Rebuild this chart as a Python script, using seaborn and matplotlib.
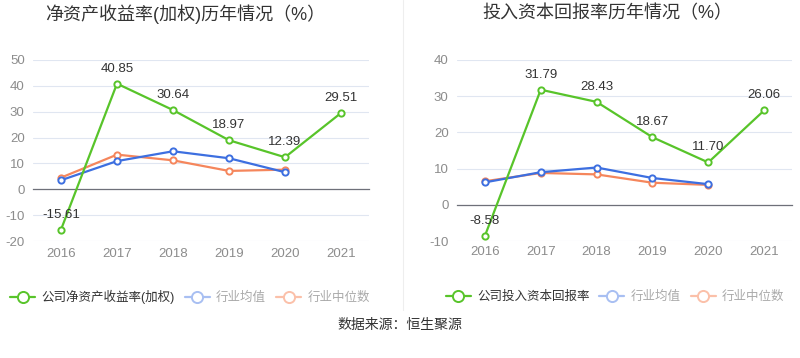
import numpy as np
import matplotlib
matplotlib.use("Agg")
import matplotlib.pyplot as plt
import seaborn as sns
from matplotlib.lines import Line2D

# data
years = ["2016", "2017", "2018", "2019", "2020", "2021"]
roe_company = [-15.61, 40.85, 30.64, 18.97, 12.39, 29.51]
roe_ind_mean = [3.5, 10.9, 14.7, 12.0, 6.6, np.nan]
roe_ind_median = [4.5, 13.4, 11.2, 7.1, 7.6, np.nan]
roic_company = [-8.58, 31.79, 28.43, 18.67, 11.70, 26.06]
roic_ind_mean = [6.2, 9.0, 10.3, 7.4, 5.7, np.nan]
roic_ind_median = [6.5, 8.8, 8.4, 6.1, 5.5, np.nan]

GREEN = "#58c42a"
BLUE = "#3d6fe0"
ORANGE = "#f5865c"
BLUE_FADED = "#a8bff2"
ORANGE_FADED = "#fbc0a9"

sns.set_style("white")
plt.rcParams['font.family'] = ['Liberation Sans', 'Noto Sans CJK SC', 'DejaVu Sans']

fig = plt.figure(figsize=(8, 3.58), dpi=100)
ax1 = fig.add_axes([33 / 800, 1 - 241 / 358, 336 / 800, 181 / 358])
ax2 = fig.add_axes([457 / 800, 1 - 241 / 358, 335 / 800, 181 / 358])


def draw(ax, company, mean, median, ylim, yticks, label_pad):
    x = np.arange(len(years))
    for vals, col, z in [(median, ORANGE, 2), (mean, BLUE, 3), (company, GREEN, 4)]:
        sns.lineplot(x=x, y=vals, ax=ax, color=col, linewidth=1.6, marker="o",
                     markersize=4.5, markerfacecolor="white", markeredgecolor=col,
                     markeredgewidth=1.4, zorder=z)
    for i, v in enumerate(company):
        ax.annotate(f"{v:.2f}", (i, v), xytext=(0, 6.5), textcoords="offset points",
                    ha="center", va="bottom", fontsize=9.5, color="#333333", zorder=5)
    ax.set_xlim(-0.5, len(years) - 0.5)
    ax.set_ylim(*ylim)
    ax.set_yticks(yticks)
    ax.set_yticklabels([str(t) for t in yticks])
    ax.yaxis.grid(True, color="#e0e6f1", linewidth=0.8)
    ax.xaxis.grid(False)
    for s in ["top", "right", "left"]:
        ax.spines[s].set_visible(False)
    ax.spines["bottom"].set_position(("data", 0))
    ax.spines["bottom"].set_color("#6e7079")
    ax.spines["bottom"].set_linewidth(0.9)
    ax.set_xticks(x)
    ax.tick_params(axis="x", length=4, color="#6e7079", width=0.8,
                   labelsize=9.5, labelcolor="#8c8c8c", pad=label_pad)
    ax.set_xticklabels(years)
    ax.tick_params(axis="y", length=0, labelsize=9.5, labelcolor="#8c8c8c", pad=6)


draw(ax1, roe_company, roe_ind_mean, roe_ind_median, (-20, 50),
     [-20, -10, 0, 10, 20, 30, 40, 50], 38)
draw(ax2, roic_company, roic_ind_mean, roic_ind_median, (-10, 40),
     [-10, 0, 10, 20, 30, 40], 26)

fig.text(185 / 800, 1 - 14 / 358, "净资产收益率(加权)历年情况（%）", ha="center", va="center",
         fontsize=13, color="#333333")
fig.text(607 / 800, 1 - 14 / 358, "投入资本回报率历年情况（%）", ha="center", va="center",
         fontsize=13, color="#333333")

# divider between the two panels
fig.add_artist(Line2D([403 / 800, 403 / 800], [1 - 310 / 358, 1.0], transform=fig.transFigure,
                      color="#eeeeee", linewidth=0.8))


def handle(col):
    return Line2D([], [], color=col, linewidth=1.6, marker="o", markersize=8,
                  markerfacecolor="white", markeredgecolor=col, markeredgewidth=1.4)


for labels, cx in [(["公司净资产收益率(加权)", "行业均值", "行业中位数"], 190 / 800),
                   (["公司投入资本回报率", "行业均值", "行业中位数"], 615 / 800)]:
    leg = fig.legend([handle(GREEN), handle(BLUE_FADED), handle(ORANGE_FADED)], labels,
                     loc="center", bbox_to_anchor=(cx, 1 - 297 / 358), ncol=3, frameon=False,
                     fontsize=9, handlelength=2.0, handletextpad=0.5, columnspacing=0.8)
    for t, c in zip(leg.get_texts(), ["#333333", "#aaaaaa", "#aaaaaa"]):
        t.set_color(c)

fig.text(400 / 800, 1 - 325 / 358, "数据来源：恒生聚源", ha="center", va="center",
         fontsize=10, color="#333333")

fig.savefig("out.png", dpi=100)
